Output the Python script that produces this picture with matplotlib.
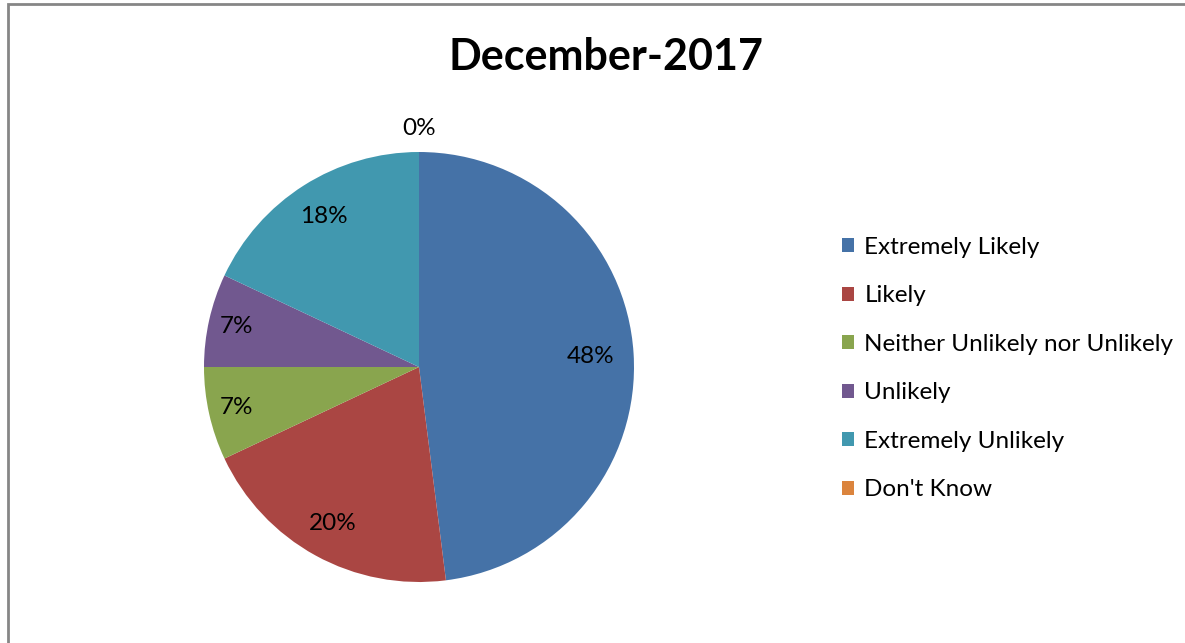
import matplotlib
matplotlib.use("Agg")
import matplotlib.pyplot as plt
import numpy as np
from matplotlib.patches import Rectangle

title = "December-2017"
categories = ["Extremely Likely", "Likely", "Neither Unlikely nor Unlikely",
              "Unlikely", "Extremely Unlikely", "Don't Know"]
shares = [48, 20, 7, 7, 18, 0]
colors = ["#4572A7", "#AA4643", "#89A54E", "#71588F", "#4198AF", "#DB843D"]

# label distances from centre (fraction of radius), like Excel's best fit
label_dist = [0.80, 0.83, 0.87, 0.87, 0.83, 1.11]

plt.rcParams['font.family'] = ['Lato', 'DejaVu Sans']

W, H = 1185, 643
fig = plt.figure(figsize=(W / 100, H / 100), dpi=100)

# chart border (grey, only left and top visible in the crop)
fig.patches.append(Rectangle((8 / W, -0.2), 2.0, 1 - 4 / H + 0.2,
                             transform=fig.transFigure, fill=False,
                             edgecolor="#868686", linewidth=2))

cx, cy, r = 419, 367, 215
ax = fig.add_axes([(cx - r) / W, (H - cy - r) / H, 2 * r / W, 2 * r / H])
wedges, texts, autotexts = ax.pie(shares, colors=colors, startangle=90,
                                  counterclock=False, radius=1,
                                  autopct="%1.0f%%", pctdistance=0.8,
                                  textprops={"fontsize": 17.5, "color": "black"})
ax.set_xlim(-1, 1)
ax.set_ylim(-1, 1)
ax.set_aspect("equal")

for w, t, d in zip(wedges, autotexts, label_dist):
    ang = np.deg2rad((w.theta1 + w.theta2) / 2)
    t.set_position((d * np.cos(ang), d * np.sin(ang)))
    t.set_ha("center")
    t.set_va("center")

fig.text(606 / W, 1 - 57 / H, title, ha="center", va="center",
         fontsize=31, fontweight="bold")

fig.legend(wedges, categories, loc="upper left",
           bbox_to_anchor=(842 / W, 1 - 237 / H), frameon=False,
           fontsize=17.5, handlelength=0.5, handleheight=0.5,
           handletextpad=0.42, labelspacing=1.13, borderpad=0,
           borderaxespad=0)

fig.savefig("out.png", dpi=100)
